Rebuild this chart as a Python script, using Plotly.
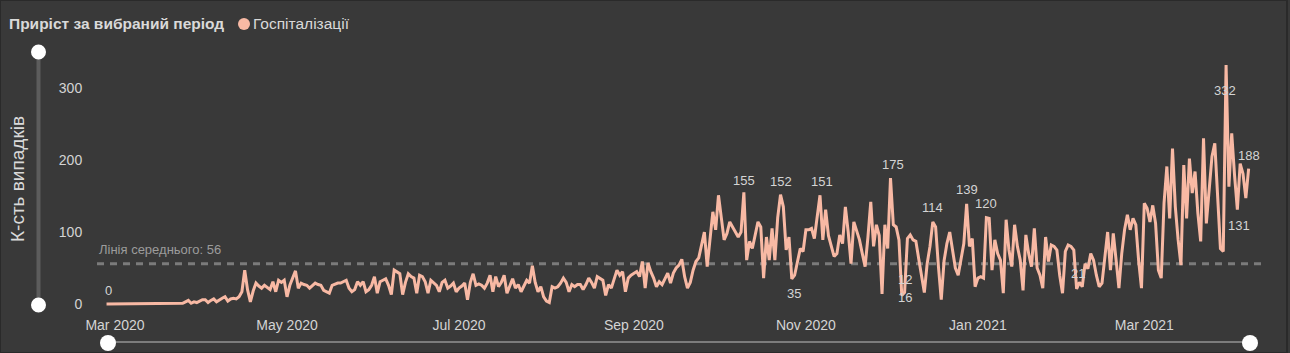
import pandas as pd
import plotly.graph_objects as go

# ---------------- data (daily hospitalisations) ----------------
START_DATE = "2020-02-27"
feb_2020 = [0, 0, 0]
mar_2020 = [0, 0, 0, 0, 0, 0, 0, 0, 0, 0, 0, 0, 0, 0, 0, 1, 0, 0, 0, 0,
            0, 0, 0, 0, 1, 3, 5, 1, 3, 2, 4]
apr_2020 = [6, 6, 2, 5, 7, 3, 6, 8, 10, 4, 7, 8, 7, 10, 17, 47, 20, 3, 18, 29,
            25, 22, 26, 23, 20, 31, 17, 33, 30, 33]
may_2020 = [10, 26, 35, 46, 22, 29, 27, 26, 22, 25, 29, 27, 26, 19, 17, 15, 26, 28, 29, 29,
            31, 33, 22, 17, 20, 31, 26, 31, 17, 20, 26]
jun_2020 = [38, 15, 31, 33, 35, 26, 13, 47, 44, 42, 13, 30, 42, 38, 36, 15, 40, 38, 31, 15,
            33, 29, 26, 17, 30, 33, 22, 25, 29, 17]
jul_2020 = [22, 25, 29, 6, 30, 42, 26, 28, 26, 22, 29, 40, 17, 38, 24, 30, 40, 15, 25, 35,
            22, 27, 17, 25, 33, 29, 53, 30, 17, 24, 10]
aug_2020 = [4, 2, 24, 22, 24, 29, 36, 30, 17, 27, 24, 27, 27, 20, 27, 36, 30, 22, 38, 35,
            33, 12, 27, 22, 35, 47, 40, 45, 17, 36, 40]
sep_2020 = [42, 45, 38, 59, 22, 57, 45, 36, 24, 31, 27, 35, 43, 29, 43, 50, 54, 62, 38, 22,
            30, 47, 59, 64, 80, 100, 52, 90, 128, 103]
oct_2020 = [151, 120, 89, 98, 114, 107, 100, 93, 100, 155, 61, 87, 77, 95, 114, 107, 36, 93, 61, 105,
            61, 120, 152, 135, 75, 93, 35, 40, 60, 77, 73]
nov_2020 = [103, 103, 105, 91, 120, 151, 89, 131, 95, 82, 66, 70, 96, 84, 135, 100, 56, 114, 100, 89,
            70, 52, 93, 142, 80, 110, 95, 14, 110, 77]
dec_2020 = [175, 110, 107, 89, 12, 16, 91, 96, 89, 87, 63, 40, 16, 56, 80, 114, 107, 52, 6, 60,
            84, 100, 75, 50, 40, 60, 84, 139, 80, 91, 24]
jan_2021 = [36, 38, 36, 120, 119, 47, 89, 70, 61, 15, 117, 75, 52, 110, 80, 61, 19, 96, 70, 52,
            105, 50, 40, 22, 93, 59, 82, 80, 75, 40, 15]
feb_2021 = [73, 82, 80, 75, 21, 30, 24, 56, 49, 70, 61, 40, 24, 29, 61, 100, 47, 98, 61, 22,
            70, 103, 124, 103, 119, 110, 60, 22]
mar_2021 = [140, 133, 114, 137, 112, 47, 36, 140, 191, 119, 216, 135, 89, 54, 193, 119, 202, 154, 184, 126,
            87, 230, 112, 163, 205, 223, 154, 77, 73, 332, 163]
apr_2021 = [237, 179, 131, 195, 181, 147, 188]

AVERAGE = 56
SERIES_NAME = "Госпіталізації"
TITLE = "Приріст за вибраний період"
Y_TITLE = "К-сть випадків"
AVG_LABEL = "Лінія середнього: 56"
Y_TICKS = [0, 100, 200, 300]

# dates of points that carry a data label
LABEL_DATES = ["2020-02-27", "2020-10-10", "2020-10-23", "2020-10-27", "2020-11-06",
               "2020-12-01", "2020-12-05", "2020-12-06", "2020-12-16", "2020-12-28",
               "2021-01-04", "2021-02-05", "2021-03-30", "2021-04-03", "2021-04-07"]

values = (feb_2020 + mar_2020 + apr_2020 + may_2020 + jun_2020 + jul_2020 + aug_2020 +
          sep_2020 + oct_2020 + nov_2020 + dec_2020 + jan_2021 + feb_2021 + mar_2021 + apr_2021)
dates = pd.date_range(START_DATE, periods=len(values), freq="D")
series = pd.Series(values, index=dates)

# ---------------- style / layout ----------------
W, H = 1290, 353
L, R, T, B = 97, 28, 45, 42
PW, PH = W - L - R, H - T - B
BG = "#393939"
LINE_COLOR = "#f8b9a4"
TEXT = "#d4d4d4"
FONT = "Liberation Sans, Arial, sans-serif"

# pixel offsets of the data labels (yshift in px, positive = up)
LABEL_YSHIFT = [14, 12, 13, -15, 14, 14, 16, -5, 14, 14, 14, 15, -26, -16, 13]
LABEL_XSHIFT = [2, 0, 0, 2, 2, 2, 3, 0, 0, 0, 0, 1, -1, 2, 0]


def px(x, y):
    return (x - L) / PW, (T + PH - y) / PH


# axis ranges: 1 Mar 2020 at x=115px, 2.82 px/day; value 0 at y=304, 0.72 px/unit
ref = pd.Timestamp("2020-03-01")
x_start = ref + pd.Timedelta(days=(L - 115) / 2.82)
x_end = ref + pd.Timedelta(days=(W - R - 115) / 2.82)
y_min = -(T + PH - 304) / 0.72
y_max = (304 - T) / 0.72

fig = go.Figure()
fig.add_trace(go.Scatter(x=series.index, y=series.values, mode="lines", name=SERIES_NAME,
                         line=dict(color=LINE_COLOR, width=3), showlegend=False,
                         hoverinfo="x+y"))

annotations = []
shapes = []

# average line + label
shapes.append(dict(type="line", xref="paper", yref="y", x0=0, x1=1, y0=AVERAGE, y1=AVERAGE,
                   line=dict(color="#7b7b7b", width=3, dash="7px,6px"), layer="below"))
annotations.append(dict(xref="paper", yref="y", x=0, y=AVERAGE, xanchor="left", yanchor="bottom",
                        yshift=5, text=AVG_LABEL, showarrow=False,
                        font=dict(family=FONT, size=13, color="#9c9c9c")))

# data labels
for d, ys, xs in zip(LABEL_DATES, LABEL_YSHIFT, LABEL_XSHIFT):
    v = series[pd.Timestamp(d)]
    annotations.append(dict(x=pd.Timestamp(d), y=v, xref="x", yref="y", text=str(v),
                            showarrow=False, yshift=ys, xshift=xs,
                            font=dict(family=FONT, size=13, color=TEXT)))

# title + legend
tx, ty = px(7, 24)
annotations.append(dict(xref="paper", yref="paper", x=tx, y=ty, xanchor="left", yanchor="middle",
                        text="<b>" + TITLE + "</b>", showarrow=False,
                        font=dict(family=FONT, size=15.5, color="#d9d9d9")))
cx0, cy0 = px(238, 18)
cx1, cy1 = px(250, 30)
shapes.append(dict(type="circle", xref="paper", yref="paper", x0=cx0, x1=cx1, y0=cy1, y1=cy0,
                   fillcolor=LINE_COLOR, line=dict(width=0)))
lx, ly = px(251, 24)
annotations.append(dict(xref="paper", yref="paper", x=lx, y=ly, xanchor="left", yanchor="middle",
                        text=SERIES_NAME, showarrow=False,
                        font=dict(family=FONT, size=15.5, color="#d9d9d9")))

# y-axis title
ax, ay = px(17, 179)
annotations.append(dict(xref="paper", yref="paper", x=ax, y=ay, xanchor="center", yanchor="middle",
                        text=Y_TITLE, textangle=-90, showarrow=False,
                        font=dict(family=FONT, size=19, color="#d9d9d9")))


def seg(x0, y0, x1, y1, color, width):
    a, b = px(x0, y0)
    c, d = px(x1, y1)
    shapes.append(dict(type="line", xref="paper", yref="paper", x0=a, y0=b, x1=c, y1=d,
                       line=dict(color=color, width=width)))


def dot(x, y, r, color):
    a, b = px(x - r, y - r)
    c, d = px(x + r, y + r)
    shapes.append(dict(type="circle", xref="paper", yref="paper", x0=a, x1=c, y0=d, y1=b,
                       fillcolor=color, line=dict(width=0)))


# range sliders (decorative)
seg(38.5, 52, 38.5, 305, "#5c5c5c", 4)
dot(38.5, 52, 7.5, "#ffffff")
dot(38.5, 305, 7.5, "#ffffff")
seg(108, 342, 1250, 342, "#7c7c7c", 2)
dot(108, 343, 8, "#ffffff")
dot(1250, 343, 8, "#ffffff")

# outer frame
a, b = px(0, 0)
c, d = px(1287, 353)
shapes.append(dict(type="rect", xref="paper", yref="paper", x0=a, y0=b, x1=c, y1=d,
                   line=dict(color="#2a2a2a", width=2), fillcolor="rgba(0,0,0,0)"))

fig.update_layout(
    width=W, height=H,
    margin=dict(l=L, r=R, t=T, b=B, pad=0),
    paper_bgcolor=BG, plot_bgcolor=BG,
    font=dict(family=FONT, size=14, color=TEXT),
    showlegend=False,
    annotations=annotations,
    shapes=shapes,
    xaxis=dict(range=[x_start, x_end], type="date", tick0="2020-03-01", dtick="M2",
               tickformat="%b %Y", showgrid=False, zeroline=False, showline=False,
               ticks="outside", ticklen=1, tickcolor=BG,
               tickfont=dict(family=FONT, size=14, color=TEXT)),
    yaxis=dict(range=[y_min, y_max], tickvals=Y_TICKS, showgrid=False, zeroline=False,
               showline=False, ticks="outside", ticklen=11, tickcolor=BG,
               tickfont=dict(family=FONT, size=14, color=TEXT)),
)

fig.write_html("out.html")
